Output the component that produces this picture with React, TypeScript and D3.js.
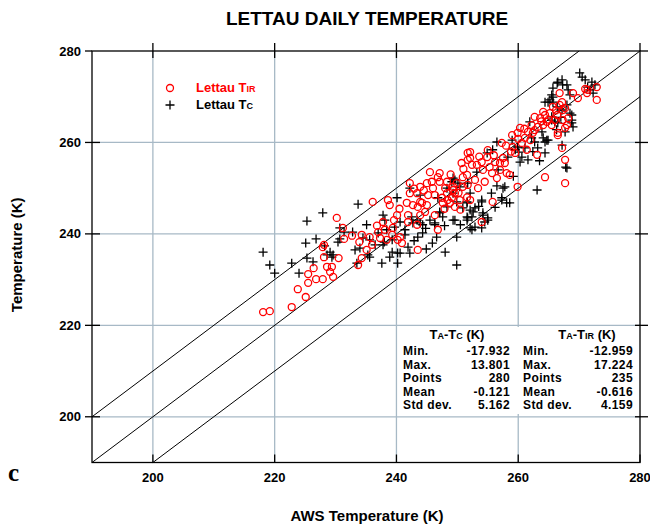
import React from "react";
import * as d3 from "d3";

const xTicks = [200, 220, 240, 260, 280];
const yTicks = [200, 220, 240, 260, 280];
const gridTicks = [200, 220, 240, 260];
const lineOffsets = [10, 0, -10];

// Lettau Tc (crosses): [AWS temperature, Lettau temperature]
const tcPoints: [number, number][] = [
  [218.1,236.0],[219.2,233.2],[220.0,231.4],[222.8,233.6],[224.0,231.4],[225.1,238.0],[225.3,242.8],[226.8,238.9],[227.9,244.6],[225.3,234.7],[226.3,233.9],[228.2,237.4],[229.1,236.0],[229.4,234.9],[230.4,238.2],[230.7,241.3],[231.4,240.4],
  [228.6,235.4],[229.6,235.4],[230.7,238.9],[232.8,240.4],[233.2,236.5],[234.5,239.1],[234.0,236.9],[235.1,242.0],[235.3,235.4],[235.6,238.7],[237.6,233.6],[237.8,237.6],[238.1,243.0],[238.9,234.9],[239.3,236.0],[240.1,247.9],[240.2,235.8],[240.2,233.6],[240.6,242.6],[241.4,239.8],[241.9,237.1],[242.5,243.7],[242.7,242.4],[243.4,243.0],[243.5,239.3],[243.9,242.4],[244.3,242.0],[244.3,240.2],[245.5,243.0],[246.3,242.0],[246.6,239.3],[247.1,244.6],[247.6,243.7],[248.3,245.9],[249.1,251.4],[249.3,248.9],[249.3,243.0],[249.9,239.3],[250.1,251.1],[250.9,245.7],[251.6,247.0],[251.6,243.7],[251.7,251.1],[239.3,238.7],[237.0,240.2],[238.4,240.9],[239.7,241.5],[248.3,250.0],[246.8,247.9],[242.2,250.0],[243.9,248.5],[241.4,240.9],
  [233.7,246.5],[237.8,244.1],[240.6,235.8],[242.2,235.8],[235.6,234.9],[233.5,233.6],
  [249.6,251.8],[251.6,246.8],[251.7,243.5],[252.4,240.9],[252.9,245.7],[253.2,253.5],[254.0,247.4],[254.2,244.6],[254.9,257.7],[254.5,242.6],[255.0,243.5],[255.8,258.4],[256.5,260.1],[256.7,254.0],[257.3,247.9],[257.5,250.0],[258.3,256.8],[258.6,246.8],[259.0,260.5],[259.5,258.4],[259.9,259.0],[260.3,255.7],[260.6,256.8],[261.1,258.8],[261.6,256.2],[261.9,264.5],[262.2,261.0],[262.7,260.1],[263.1,249.6],[263.2,258.8],[263.9,262.3],[264.1,261.0],[264.4,257.7],[264.4,260.1],[264.9,260.5],[265.2,269.3],[265.5,265.6],[266.0,264.5],[266.4,267.8],[266.5,264.3],[267.2,259.4],[267.7,262.3],[268.0,254.4],[268.5,266.4],[268.8,264.9],[269.0,263.4],[265.7,269.9],[249.9,247.0],[249.3,252.2],[250.4,250.3],[252.1,248.9],[252.6,244.8],
  [252.4,243.7],[251.6,243.0],[252.9,241.5],[249.6,243.0],[254.2,244.1],[254.0,241.3],
  [264.4,268.8],[265.5,270.4],[265.7,271.9],[266.4,273.0],[266.5,273.2],[267.2,273.7],[267.3,272.6],[268.0,272.6],[268.2,271.5],[268.5,270.4],[268.8,266.0],[268.8,264.3],[270.1,275.2],[270.5,274.3],[271.0,273.7],[271.4,272.1],[271.8,271.5],[272.1,273.2],[272.6,272.6],[272.3,270.8],[268.0,268.2],[265.7,268.8],[264.9,268.8],[267.2,267.1],[264.7,260.5],[265.5,264.9],[267.8,254.6],
  [246.3,242.4],[247.1,244.8],[252.1,245.2],[254.0,247.0],[255.0,243.0],[257.3,247.4],[258.1,246.8],[256.5,250.5],[257.8,250.3],[252.1,241.3],
  [248.0,236.0],[249.9,233.2],
  [244.8,241.2],[245.9,238.0],[247.9,241.8],[250.5,242.0],[253.5,246.0],[255.6,248.9],[256.2,245.8],[259.2,252.6],[260.1,257.9],[262.4,258.0],[263.5,256.0],[266.3,262.8],[267.0,265.5],[236.5,237.6],[238.0,238.2],[242.9,238.5],[244.9,236.7],
];

// Lettau Tir (circles): [AWS temperature, Lettau temperature]
const tirPoints: [number, number][] = [
  [218.1,222.9],[219.2,223.1],[222.8,224.0],[223.8,227.9],[225.1,226.2],[225.5,229.3],[225.5,231.2],[226.4,232.5],[226.8,230.1],[227.9,230.1],[228.1,234.9],[228.1,237.6],[229.1,231.7],[229.4,232.8],[229.6,230.6],[230.2,243.5],[230.5,234.7],[231.4,238.9],
  [227.9,237.1],[228.6,232.8],[231.2,241.3],[232.7,239.6],[233.7,233.2],[234.3,234.7],[234.3,239.8],[235.1,236.5],[235.6,239.3],[236.0,237.6],[236.1,247.0],[237.0,240.4],[237.3,239.1],[237.8,242.6],[238.1,240.9],[238.4,238.7],[238.6,247.4],[238.9,246.3],[239.3,239.8],[239.4,241.3],[240.1,244.1],[240.2,238.7],[240.6,239.3],[240.9,238.0],[241.7,246.8],[241.9,242.6],[242.2,248.9],[242.2,251.1],[242.7,246.3],[243.4,248.9],[243.5,245.9],[243.5,236.5],[243.9,247.0],[243.9,244.1],[244.7,244.8],[245.0,251.1],[245.2,248.5],[245.5,253.5],[245.8,251.4],[246.0,250.0],[246.3,248.5],[246.3,244.1],[246.8,240.9],[247.1,251.4],[247.5,247.9],[247.6,246.8],[248.0,250.0],[248.3,248.9],[248.4,247.4],[248.8,246.8],[249.1,247.9],[249.3,249.6],[249.6,248.9],[249.9,251.1],[250.4,247.4],[250.7,255.5],[250.9,250.3],[251.6,252.9],[251.7,257.7],[251.7,256.2],[247.1,253.3],[248.3,251.4],[243.9,250.3],[245.0,246.3],[241.9,244.1],[243.4,242.0],
  [249.6,245.9],[249.3,250.3],[250.9,252.4],[251.7,250.7],[252.1,257.9],[252.1,256.6],[252.4,255.1],[252.1,247.4],[252.9,251.8],[253.2,255.1],[253.4,250.0],[254.0,255.7],[254.2,254.0],[254.5,251.4],[254.9,256.8],[255.3,254.6],[255.7,253.3],[255.8,247.0],[256.2,255.7],[256.5,252.2],[257.0,254.0],[257.0,255.5],[257.3,259.9],[257.5,256.6],[257.8,255.5],[258.1,253.3],[258.6,252.9],[259.0,261.6],[259.1,259.0],[259.5,257.7],[259.9,250.3],[259.9,262.1],[260.3,263.2],[260.6,259.9],[261.1,261.0],[261.4,258.4],[261.6,262.3],[262.2,263.8],[262.4,262.1],[262.7,265.6],[263.1,257.3],[263.2,263.4],[263.6,265.3],[264.4,252.4],[264.1,266.7],[264.7,264.5],[265.2,266.4],[265.5,263.8],[265.7,267.8],[266.0,264.9],[266.4,266.0],[266.5,262.1],[266.8,268.2],[267.2,258.8],[267.3,267.1],[267.7,256.2],[267.7,251.1],[268.0,263.8],[268.2,265.3],[269.0,270.8],[269.8,269.7],[271.3,270.8],[272.9,269.3],
  [266.8,270.8],[267.2,268.8],[267.7,267.5],[264.4,266.0],[264.1,263.8],[262.7,262.7],[267.3,264.9],[267.7,263.2],[266.5,261.6],[271.4,271.5],[272.9,272.1],[271.0,271.7],
  [254.0,242.6],[251.6,248.0],
  [244.5,249.5],[246.8,252.4],[248.9,253.0],[250.2,249.0],[251.0,254.2],[253.6,256.9],[255.0,258.3],[256.0,257.2],[258.0,259.3],[258.8,258.0],[260.0,260.8],[261.0,263.0],[262.0,260.5],[263.8,264.6],[265.0,265.0],[266.2,267.0],[240.5,245.5],[239.6,243.0],[242.9,249.9],[244.2,246.8],[247.9,245.5],[250.5,245.3],[236.8,241.8],[233.9,238.2],
];

const statLabels = ["Min.", "Max.", "Points", "Mean", "Std dev."];
const statsTc = ["-17.932", "13.801", "280", "-0.121", "5.162"];
const statsTir = ["-12.959", "17.224", "235", "-0.616", "4.159"];

const FONT = "'Liberation Sans', Arial, Helvetica, sans-serif";
const GRID = "#a7b9c6";
const RED = "#ff0000";

export default function App() {
  const x = d3.scaleLinear().domain([190, 280]).range([92, 640]);
  const y = d3.scaleLinear().domain([190, 280]).range([462.5, 51]);
  const [x0, x1] = x.range();
  const [y0, y1] = y.range();

  const diag = (off: number) => {
    const lo = Math.max(190, 190 - off);
    const hi = Math.min(280, 280 - off);
    return d3.line<number>().x((v) => x(v)).y((v) => y(v + off))([lo, hi]) as string;
  };

  const rowY = [355, 368.5, 382, 395.5, 409];
  const tfs = 12;
  const tls = 0.4;

  return (
    <svg
      width={650}
      height={526}
      style={{ position: "absolute", left: 0, top: 0, background: "#fff" }}
      fontFamily={FONT}
    >
      <rect x={0} y={0} width={650} height={526} fill="#fff" />
      <text x={367} y={25} textAnchor="middle" fontSize={19} fontWeight="bold" fill="#000">
        LETTAU DAILY TEMPERATURE
      </text>

      {gridTicks.map((t) => (
        <line key={"gx" + t} x1={x(t)} x2={x(t)} y1={y1} y2={y0} stroke={GRID} strokeWidth={1.3} />
      ))}
      {gridTicks.map((t) => (
        <line key={"gy" + t} x1={x0} x2={x1} y1={y(t)} y2={y(t)} stroke={GRID} strokeWidth={1.3} />
      ))}

      {lineOffsets.map((o) => (
        <path key={"d" + o} d={diag(o)} stroke="#000" strokeWidth={1} fill="none" />
      ))}

      {tcPoints.map(([a, b], i) => (
        <path
          key={"c" + i}
          d={`M${x(a) - 4.5},${y(b)}h9M${x(a)},${y(b) - 4.5}v9`}
          stroke="#000"
          strokeWidth={1.3}
        />
      ))}
      {tirPoints.map(([a, b], i) => (
        <circle key={"o" + i} cx={x(a)} cy={y(b)} r={3.5} fill="none" stroke={RED} strokeWidth={1.3} />
      ))}

      <rect x={x0} y={y1} width={x1 - x0} height={y0 - y1} fill="none" stroke="#000" strokeWidth={1.3} />

      {yTicks.map((t) => (
        <g key={"ty" + t}>
          <line x1={x0 - 7} x2={t === 280 ? x0 : x0 + 8} y1={y(t)} y2={y(t)} stroke="#000" strokeWidth={1.3} />
          <line x1={t === 280 ? x1 : x1 - 5} x2={x1 + 8} y1={y(t)} y2={y(t)} stroke="#000" strokeWidth={1.3} />
          <text x={x0 - 11} y={y(t) + 4.5} textAnchor="end" fontSize={13} fontWeight="bold">
            {t}
          </text>
        </g>
      ))}
      {xTicks.map((t) => (
        <g key={"tx" + t}>
          <line x1={x(t)} x2={x(t)} y1={y0} y2={y0 - 8} stroke="#000" strokeWidth={1.3} />
          <line x1={x(t)} x2={x(t)} y1={y1 - 8} y2={t === 280 ? y1 : y1 + 7} stroke="#000" strokeWidth={1.3} />
          <text x={x(t)} y={482} textAnchor="middle" fontSize={13} fontWeight="bold">
            {t}
          </text>
        </g>
      ))}

      <text x={367} y={521} textAnchor="middle" fontSize={15} fontWeight="bold">
        AWS Temperature (K)
      </text>
      <text
        transform={`translate(22,${(y0 + y1) / 2 - 2}) rotate(-90)`}
        textAnchor="middle"
        fontSize={15}
        fontWeight="bold"
      >
        Temperature (K)
      </text>

      <text x={8} y={481} fontSize={25} fontWeight="bold" fontFamily="'Liberation Serif', 'Times New Roman', serif">
        c
      </text>

      <circle cx={170} cy={88} r={3.5} fill="none" stroke={RED} strokeWidth={1.3} />
      <text x={196} y={92} fontSize={13} fontWeight="bold" fill={RED}>
        Lettau T<tspan fontSize={9}>IR</tspan>
      </text>
      <path d="M165.5,105h9M170,100.5v9" stroke="#000" strokeWidth={1.3} />
      <text x={196} y={109} fontSize={13} fontWeight="bold" fill="#000">
        Lettau T<tspan fontSize={9}>C</tspan>
      </text>

      <rect x={399} y={327} width={239} height={87} fill="#fff" />
      <text x={457} y={339} textAnchor="middle" fontSize={13} fontWeight="bold">
        T<tspan fontSize={9}>A</tspan>-T<tspan fontSize={9}>C</tspan> (K)
      </text>
      <text x={587} y={339} textAnchor="middle" fontSize={13} fontWeight="bold">
        T<tspan fontSize={9}>A</tspan>-T<tspan fontSize={9}>IR</tspan> (K)
      </text>
      {statLabels.map((l, i) => (
        <g key={"s" + i}>
          <text x={403} y={rowY[i]} fontSize={tfs} letterSpacing={tls} fontWeight="bold">{l}</text>
          <text x={510} y={rowY[i]} textAnchor="end" fontSize={tfs} letterSpacing={tls} fontWeight="bold">{statsTc[i]}</text>
          <text x={523} y={rowY[i]} fontSize={tfs} letterSpacing={tls} fontWeight="bold">{l}</text>
          <text x={633} y={rowY[i]} textAnchor="end" fontSize={tfs} letterSpacing={tls} fontWeight="bold">{statsTir[i]}</text>
        </g>
      ))}
    </svg>
  );
}
